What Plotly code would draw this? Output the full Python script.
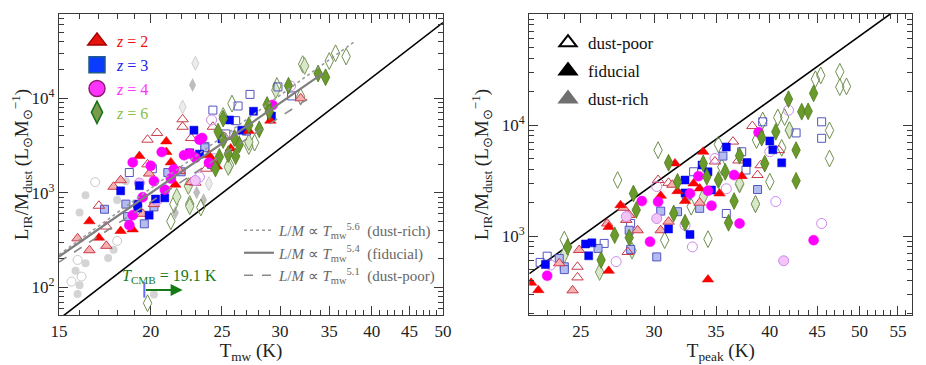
import numpy as np
import plotly.graph_objects as go

# ---------------- LEFT PANEL DATA (T_mw, L_IR/M_dust) ----------------
mw_z2_fid_T  = [16.5, 17.0, 18.2, 18.9, 19.3, 21.0, 21.0, 21.3, 21.6, 24.2, 24.6, 25.7, 27.2, 29.1, 24.0]
mw_z2_fid_LM = [500, 335, 395, 410, 2450, 3500, 2700, 2100, 1220, 2250, 1900, 2950, 4500, 5800, 2500]
mw_z2_poor_T  = [20.4, 19.8, 22.1, 22.1, 17.0, 17.4, 22.7, 23.8, 23.0, 24.3, 19.8, 25.2]
mw_z2_poor_LM = [4300, 3650, 6000, 5000, 730, 440, 3800, 1800, 1280, 5000, 2000, 3900]
mw_z2_rich_T  = [15.9, 16.5, 17.4, 17.8, 18.2, 19.9, 19.5, 20.2, 21.9, 32.0, 22.7]
mw_z2_rich_LM = [330, 247, 275, 1160, 1360, 1600, 600, 760, 1700, 10000, 1300]

mw_z3_fid_T  = [18.2, 19.3, 19.2, 19.9, 20.3, 20.9, 22.9, 22.6, 23.3, 25.6, 26.6, 27.6, 29.2, 25.0, 19.2]
mw_z3_fid_LM = [1050, 1190, 690, 580, 860, 885, 4600, 2650, 2570, 5900, 4600, 7300, 6500, 3720, 760]
mw_z3_poor_T  = [18.7, 20.1, 23.7, 27.3, 26.3, 24.3, 29.8, 31.1, 26.1, 21.3, 25.3]
mw_z3_poor_LM = [1640, 1800, 3100, 11000, 8300, 7500, 13200, 10600, 5800, 1550, 4200]
mw_z3_rich_T  = [17.3, 18.5, 18.6, 19.6, 20.2, 21.1, 22.0, 23.7, 27.0, 24.2]
mw_z3_rich_LM = [670, 760, 560, 470, 710, 1640, 1670, 3000, 4500, 2000]

mw_z4_fid_T  = [18.9, 20.0, 20.7, 20.2, 20.9, 19.5, 18.9, 18.7, 21.3, 22.2, 22.6, 23.3, 24.0, 23.5, 21.5, 29.3, 23.0]
mw_z4_fid_LM = [2100, 1930, 2700, 1330, 1080, 900, 580, 455, 1420, 2500, 2600, 3650, 2080, 3800, 1780, 8500, 2350]
mw_z4_poor_T  = [24.2, 31.0, 23.3, 24.4, 26.0]
mw_z4_poor_LM = [5900, 13500, 1470, 2300, 4000]
mw_z4_rich_T  = [19.3, 20.4, 23.0]
mw_z4_rich_LM = [1270, 835, 1350]

mw_z6_fid_T  = [30.8, 33.8, 34.6, 28.8, 29.0, 28.1, 27.2, 26.4, 26.1, 24.5, 24.8, 24.7, 25.1, 25.1, 25.5, 26.0]
mw_z6_fid_LM = [13600, 18300, 16700, 8500, 7200, 4700, 5200, 3240, 2440, 1810, 2400, 4450, 3620, 6100, 2570, 3800]
mw_z6_poor_T  = [19.8, 21.3, 21.5, 22.6, 23.4, 25.8, 35.7, 36.9, 35.0, 32.2, 29.7, 32.0, 27.2, 25.6, 27.7, 25.1]
mw_z6_poor_LM = [68, 500, 760, 760, 700, 8800, 30000, 27700, 24800, 23000, 13500, 10400, 3130, 1960, 3400, 6500]
mw_z6_rich_T  = [21.7, 22.5, 22.6, 25.5, 27.2, 29.6, 32.4]
mw_z6_rich_LM = [910, 1180, 720, 1880, 3450, 12200, 22000]

mw_gray_fill_T  = [16.3, 16.0, 15.8, 16.0, 15.9, 16.3, 17.8, 17.5, 18.5, 18.0, 20.2]
mw_gray_fill_LM = [945, 620, 150, 105, 85, 180, 250, 205, 1330, 840, 84]
mw_gray_open_T  = [16.8, 15.9, 18.0, 16.1, 15.6]
mw_gray_open_LM = [1300, 195, 310, 130, 115]
mw_gray_dia_T  = [22.8, 21.6, 23.6, 23.1]
mw_gray_dia_LM = [13800, 615, 840, 1010]
mw_gray_ldia_T  = [22.1, 24.0, 23.0]
mw_gray_ldia_LM = [8100, 1250, 23500]

# ---------------- RIGHT PANEL DATA (T_peak, L_IR/M_dust) ----------------
pk_z2_fid_T  = [22.1, 22.5, 26.8, 27.6, 26.8, 30.5, 31.6, 31.8, 32.4, 33.1, 33.9, 34.3, 35.3, 37.3, 33.6]
pk_z2_fid_LM = [380, 326, 487, 1900, 1210, 2310, 4520, 2540, 2070, 2980, 5750, 407, 2420, 3470, 2690]
pk_z2_poor_T  = [38.3, 36.5, 38.8, 40.9, 30.3, 31.1, 28.1, 24.8, 24.8, 39.1, 34.9, 37.0]
pk_z2_poor_LM = [9800, 7100, 3550, 5950, 3200, 3020, 720, 530, 425, 4350, 4700, 4800]
pk_z2_rich_T  = [24.9, 28.2, 28.8, 30.5, 31.1, 23.7, 24.5, 27.8, 28.0, 33.6, 31.4, 26.7]
pk_z2_rich_LM = [750, 1550, 1130, 1130, 1350, 570, 325, 1800, 1400, 2000, 2900, 1300]

pk_z3_fid_T  = [22.9, 25.3, 25.7, 25.5, 31.1, 32.4, 32.4, 32.8, 33.8, 34.3, 34.6, 35.9, 37.8, 40.0, 40.3, 41.2]
pk_z3_fid_LM = [555, 850, 870, 665, 1160, 3200, 2450, 1035, 4360, 3800, 2600, 6350, 4600, 7200, 6000, 4570]
pk_z3_poor_T  = [22.6, 23.0, 26.5, 33.1, 39.3, 42.7, 45.5, 45.5, 35.9, 37.7, 37.3, 28.3]
pk_z3_poor_LM = [580, 660, 860, 3800, 10700, 8500, 10700, 7600, 1600, 3940, 5750, 1300]
pk_z3_rich_T  = [23.7, 24.0, 24.0, 30.2, 30.5, 31.8, 32.5, 35.6, 38.8, 28.2, 33.6, 26.1, 28.3]
pk_z3_rich_LM = [630, 530, 500, 650, 1680, 1660, 2340, 5260, 2630, 1130, 1780, 775, 760]

pk_z4_fid_T  = [23.0, 29.1, 30.3, 29.7, 32.8, 33.5, 34.3, 34.6, 36.6, 37.1, 38.9, 44.6]
pk_z4_fid_LM = [440, 2070, 2040, 890, 2420, 3470, 2560, 1880, 3550, 1300, 8600, 920]
pk_z4_poor_T  = [23.2, 27.3, 30.2, 33.0, 35.9, 40.0, 40.6, 41.9, 45.5, 32.4, 34.9]
pk_z4_poor_LM = [550, 590, 2800, 800, 2670, 5760, 2050, 13600, 1300, 1250, 5000]
pk_z4_rich_T  = [41.4, 30.2, 28.0]
pk_z4_rich_LM = [600, 1440, 1500]

pk_z6_fid_T  = [24.2, 26.3, 27.2, 28.2, 28.5, 28.7, 31.1, 31.5, 31.8, 32.4, 33.9, 34.2, 35.2, 35.8, 36.1, 36.6,
                37.1, 39.2, 39.5, 40.6, 41.9, 42.7, 42.7, 43.3, 44.0, 44.6]
pk_z6_fid_LM = [800, 610, 1020, 970, 2420, 1720, 4580, 1600, 3080, 1320, 4510, 3420, 3200, 3800, 1320, 2070,
                5300, 7700, 4500, 8700, 17100, 5950, 3150, 13200, 13300, 19300]
pk_z6_poor_T  = [24.0, 27.4, 30.3, 34.3, 35.2, 30.8, 32.9, 35.5, 37.1, 38.6, 38.7, 39.3, 40.8, 41.5, 42.0, 41.2,
                 40.0, 45.4, 44.8, 47.6, 47.6, 48.4, 46.4, 46.4]
pk_z6_poor_LM = [930, 3200, 5950, 940, 6700, 920, 1840, 4200, 2920, 1940, 7330, 11000, 11700, 11800, 8950, 6240,
                 3090, 28000, 25900, 30200, 22000, 22300, 8950, 5000]
pk_z6_rich_T  = [24.0, 26.2, 28.4, 38.6, 37.1, 33.9, 42.0]
pk_z6_rich_LM = [680, 475, 740, 1950, 2980, 2260, 9000]

# model / fit parameters
thin_amp = 4.05e-6          # L/M = A T^6 (black line)
fit_slopes = [5.6, 5.4, 5.1]
fit_amp15 = [222, 211, 185]
fit_tmax = [37.9, 34.3, 33.0]
fit_names = ["(dust-rich)", "(fiducial)", "(dust-poor)"]
T_CMB = 19.1
cmb_arrow_T = [19.6, 22.1]

SERIF = "Liberation Serif"

STY = {
    2: dict(sym="triangle-up", size=10,
            fid=dict(color="#ff0000", line=dict(color="#e00000", width=0.5)),
            poor=dict(color="rgba(255,255,255,0)", line=dict(color="#c83a4a", width=1)),
            rich=dict(color="#f7b0b0", line=dict(color="#c83a4a", width=1))),
    3: dict(sym="square", size=8,
            fid=dict(color="#0000ff", line=dict(color="#0000cc", width=0.5)),
            poor=dict(color="rgba(255,255,255,0)", line=dict(color="#5555c0", width=1)),
            rich=dict(color="#b4bdf0", line=dict(color="#5555c0", width=1))),
    4: dict(sym="circle", size=10,
            fid=dict(color="#ff00ff", line=dict(color="#ff00ff", width=0.5)),
            poor=dict(color="rgba(255,255,255,0)", line=dict(color="#cc88ee", width=1)),
            rich=dict(color="#f2c4f8", line=dict(color="#cc88ee", width=1))),
    6: dict(sym="diamond-tall", size=12,
            fid=dict(color="#6b9a2c", line=dict(color="#4f7a1c", width=0.8)),
            poor=dict(color="rgba(255,255,255,0)", line=dict(color="#6f8f4f", width=1)),
            rich=dict(color="#d9e8c8", line=dict(color="#7d9b5e", width=1))),
}

fig = go.Figure()

def add_pts(T, LM, z, var, xa, ya):
    s = STY[z]
    fig.add_trace(go.Scatter(x=T, y=LM, mode="markers", xaxis=xa, yaxis=ya, showlegend=False,
                             marker=dict(symbol=s["sym"], size=s["size"], **s[var]), hoverinfo="skip"))

# gray background points (left)
fig.add_trace(go.Scatter(x=mw_gray_fill_T, y=mw_gray_fill_LM, mode="markers", showlegend=False,
                         marker=dict(symbol="circle", size=8, color="#d4d4d4", line=dict(width=0))))
fig.add_trace(go.Scatter(x=mw_gray_open_T, y=mw_gray_open_LM, mode="markers", showlegend=False,
                         marker=dict(symbol="circle-open", size=9, color="#c8c8c8", line=dict(width=1))))
fig.add_trace(go.Scatter(x=mw_gray_dia_T, y=mw_gray_dia_LM, mode="markers", showlegend=False,
                         marker=dict(symbol="diamond-tall", size=10, color="#bdbdbd", line=dict(width=0))))
fig.add_trace(go.Scatter(x=mw_gray_ldia_T, y=mw_gray_ldia_LM, mode="markers", showlegend=False,
                         marker=dict(symbol="diamond-tall", size=10, color="#ececec",
                                     line=dict(color="#d0d0d0", width=1))))

# black T^6 line, left
Tl = np.array([15.0, 50.0])
fig.add_trace(go.Scatter(x=Tl, y=thin_amp * Tl**6, mode="lines", showlegend=False,
                         line=dict(color="black", width=1.6), hoverinfo="skip"))

left_sets = [
    (6, mw_z6_poor_T, mw_z6_poor_LM, "poor"), (6, mw_z6_rich_T, mw_z6_rich_LM, "rich"),
    (3, mw_z3_poor_T, mw_z3_poor_LM, "poor"), (3, mw_z3_rich_T, mw_z3_rich_LM, "rich"),
    (2, mw_z2_poor_T, mw_z2_poor_LM, "poor"), (2, mw_z2_rich_T, mw_z2_rich_LM, "rich"),
    (4, mw_z4_poor_T, mw_z4_poor_LM, "poor"), (4, mw_z4_rich_T, mw_z4_rich_LM, "rich"),
    (3, mw_z3_fid_T, mw_z3_fid_LM, "fid"), (2, mw_z2_fid_T, mw_z2_fid_LM, "fid"),
    (4, mw_z4_fid_T, mw_z4_fid_LM, "fid"), (6, mw_z6_fid_T, mw_z6_fid_LM, "fid"),
]
for z, T, LM, var in left_sets:
    add_pts(T, LM, z, var, "x", "y")

# fit lines (left)
dashes = ["dot", "solid", "dash"]
fit_cols = ["#9a9a9a", "#7f7f7f", "#8a8a8a"]
fit_w = [1.6, 2.2, 1.6]
for sl, a15, tmax, nm, d, c, w in zip(fit_slopes, fit_amp15, fit_tmax, fit_names, dashes, fit_cols, fit_w):
    Tf = np.linspace(15.0, tmax, 30)
    fig.add_trace(go.Scatter(x=Tf, y=a15 * (Tf / 15.0)**sl, mode="lines", legend="legend3",
                             name=f"<i>L</i>/<i>M</i> ∝ <i>T</i><sub>mw</sub><sup>{sl}</sup>  {nm}",
                             line=dict(color=c, width=w, dash=d), hoverinfo="skip"))

# T_CMB marker (start bar of the arrow)
fig.add_trace(go.Scatter(x=[cmb_arrow_T[0]], y=[94], mode="markers", showlegend=False,
                         marker=dict(symbol="line-ns-open", size=11, line=dict(color="#157a15", width=2))))

# right panel
Tr = np.array([22.0, 57.0])
fig.add_trace(go.Scatter(x=Tr, y=thin_amp * Tr**6, mode="lines", showlegend=False, xaxis="x2", yaxis="y2",
                         line=dict(color="black", width=1.6), hoverinfo="skip"))
right_sets = [
    (6, pk_z6_poor_T, pk_z6_poor_LM, "poor"), (6, pk_z6_rich_T, pk_z6_rich_LM, "rich"),
    (3, pk_z3_poor_T, pk_z3_poor_LM, "poor"), (3, pk_z3_rich_T, pk_z3_rich_LM, "rich"),
    (2, pk_z2_poor_T, pk_z2_poor_LM, "poor"), (2, pk_z2_rich_T, pk_z2_rich_LM, "rich"),
    (4, pk_z4_poor_T, pk_z4_poor_LM, "poor"), (4, pk_z4_rich_T, pk_z4_rich_LM, "rich"),
    (3, pk_z3_fid_T, pk_z3_fid_LM, "fid"), (2, pk_z2_fid_T, pk_z2_fid_LM, "fid"),
    (4, pk_z4_fid_T, pk_z4_fid_LM, "fid"), (6, pk_z6_fid_T, pk_z6_fid_LM, "fid"),
]
for z, T, LM, var in right_sets:
    add_pts(T, LM, z, var, "x2", "y2")

# legend: redshift (left)
z_leg = [
    ("2", "triangle-up", "#e8120c", "#a00000", "#ee1111"),
    ("3", "square", "#0a3cff", "#1f5a8a", "#2222ee"),
    ("4", "circle", "#ff33ff", "#8e1a70", "#ff33ff"),
    ("6", "diamond-tall", "#7a9a4c", "#157015", "#8cbf4a"),
]
for lab, sym, fc, lc, tc in z_leg:
    fig.add_trace(go.Scatter(x=[None], y=[None], mode="markers", legend="legend",
                             name=f"<span style='color:{tc}'><i>z</i> = {lab}</span>",
                             marker=dict(symbol=sym, size=16, color=fc, line=dict(color=lc, width=1.5))))
# legend: models (right)
for lab, sym, fc, lc in [("dust-poor", "triangle-up-open", "black", "black"),
                         ("fiducial", "triangle-up", "black", "black"),
                         ("dust-rich", "triangle-up", "#707070", "#707070")]:
    fig.add_trace(go.Scatter(x=[None], y=[None], mode="markers", legend="legend2", xaxis="x2", yaxis="y2",
                             name=lab, legendgroup=lab,
                             marker=dict(symbol=sym, size=15, color=fc, line=dict(color=lc, width=2))))

LC = "#3a3a3a"
def xax(dom, rng, tv, minor_tv, title, anchor):
    return dict(type="log", domain=dom, range=[np.log10(rng[0]), np.log10(rng[1])], anchor=anchor,
                tickvals=tv, ticktext=[str(v) for v in tv], ticks="inside", ticklen=9, tickwidth=1,
                tickcolor=LC, showline=True, linecolor=LC, linewidth=1.2, mirror="allticks",
                showgrid=False, zeroline=False,
                minor=dict(tickvals=minor_tv, ticks="inside", ticklen=5, tickcolor=LC, showgrid=False),
                tickfont=dict(family=SERIF, size=17, color="#222"),
                title=dict(text=title, font=dict(family=SERIF, size=19, color="#222"), standoff=2),
                automargin=False)

def yax(dom, rng, tv, minor_tv, anchor):
    return dict(type="log", domain=dom, range=[np.log10(rng[0]), np.log10(rng[1])], anchor=anchor,
                tickvals=tv, ticktext=[f"10<sup>{int(np.log10(v))}</sup>" for v in tv],
                ticks="inside", ticklen=9, tickwidth=1, tickcolor=LC, showline=True, linecolor=LC,
                linewidth=1.2, mirror="allticks", showgrid=False, zeroline=False,
                minor=dict(tickvals=minor_tv, ticks="inside", ticklen=5, tickcolor=LC, showgrid=False),
                tickfont=dict(family=SERIF, size=17, color="#222"),
                title=dict(text="L<sub>IR</sub>/M<sub>dust</sub> (L<sub>⊙</sub>M<sub>⊙</sub><sup>−1</sup>)",
                           font=dict(family=SERIF, size=19, color="#222"), standoff=8),
                automargin=False)

mx1 = [t for t in range(16, 50) if t % 5]
mx2 = [t for t in range(23, 57) if t % 5]
my1 = [m * 10**e for e in range(1, 5) for m in range(2, 10)]
my2 = [m * 10**e for e in range(2, 5) for m in range(2, 10)]

# page body has an 8px margin: figure is 918x357 so that it lands on the 926x365 window
W, H = 918, 357
def dx(px0, px1):
    return [(px0 - 8) / W, (px1 - 8) / W]
def dy(top, bot):
    return [1 - (bot - 8) / H, 1 - (top - 8) / H]

fig.update_layout(
    width=W, height=H, margin=dict(l=0, r=0, t=0, b=0),
    paper_bgcolor="white", plot_bgcolor="white",
    font=dict(family=SERIF, color="#222"),
    xaxis=xax(dx(59, 443), [15, 50], list(range(15, 51, 5)), mx1, "T<sub>mw</sub> (K)", "y"),
    yaxis=yax(dy(14, 315), [51, 78000], [100, 1000, 10000], my1, "x"),
    xaxis2=xax(dx(529.3, 912.3), [22, 57], list(range(25, 56, 5)), mx2, "T<sub>peak</sub> (K)", "y2"),
    yaxis2=yax(dy(14, 315), [195, 100000], [1000, 10000, 100000], my2, "x2"),
    legend=dict(x=(77 - 8) / W, y=1 - (24 - 8) / H, xanchor="left", yanchor="top", bgcolor="rgba(0,0,0,0)",
                font=dict(family=SERIF, size=16), itemsizing="trace", tracegroupgap=0),
    legend2=dict(x=(548 - 8) / W, y=1 - (25 - 8) / H, xanchor="left", yanchor="top", bgcolor="rgba(0,0,0,0)",
                 font=dict(family=SERIF, size=17, color="#111"), itemsizing="trace", tracegroupgap=3),
    legend3=dict(x=(239 - 8) / W, y=1 - (214 - 8) / H, xanchor="left", yanchor="top", bgcolor="rgba(0,0,0,0)",
                 font=dict(family=SERIF, size=15, color="#666"), itemwidth=30),
    annotations=[
        dict(x=np.log10(cmb_arrow_T[1]), y=np.log10(94), ax=np.log10(cmb_arrow_T[0]), ay=np.log10(94),
             xref="x", yref="y", axref="x", ayref="y", showarrow=True, arrowhead=2, arrowsize=1.2,
             arrowwidth=2, arrowcolor="#157a15", text=""),
        dict(x=np.log10(21.2), y=np.log10(130), xref="x", yref="y", showarrow=False,
             text="<i>T</i><sub>CMB</sub> = 19.1 K", font=dict(family=SERIF, size=16, color="#157a15")),
    ],
)

fig.write_html("out.html")
